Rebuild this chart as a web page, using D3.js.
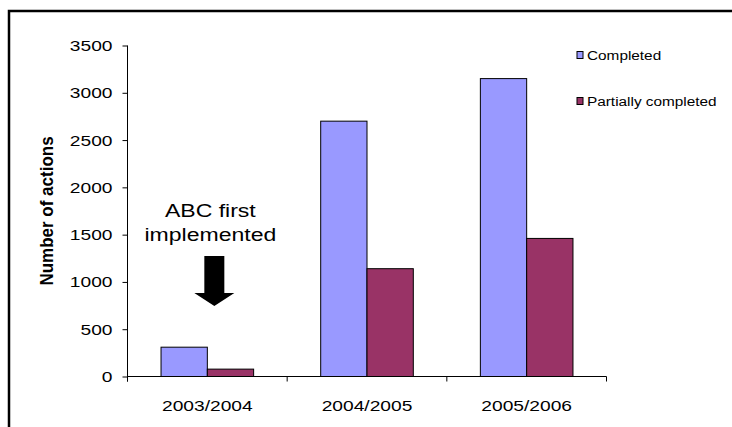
<!DOCTYPE html>
<html>
<head>
<meta charset="utf-8">
<script src="https://cdn.jsdelivr.net/npm/d3@7"></script>
<style>
  html, body { margin: 0; padding: 0; background: #fff; overflow: hidden; }
  svg { display: block; font-family: Arial, "Liberation Sans", sans-serif; }
</style>
</head>
<body>
<svg id="chart" width="732" height="427"></svg>
<script>
// Data
const categories = ["2003/2004", "2004/2005", "2005/2006"];
const seriesNames = ["Completed", "Partially completed"];
const completed = [310, 2700, 3150];
const partiallyCompleted = [78, 1140, 1460];
const yTicks = [0, 500, 1000, 1500, 2000, 2500, 3000, 3500];
const seriesColors = ["#9999FF", "#993366"];

const values = [completed, partiallyCompleted];
const wide = 1.28; // horizontal stretch of the typeface

const svg = d3.select("#chart");

// outer frame (only its top and left edges fall inside the view)
svg.append("rect")
  .attr("x", 9).attr("y", 11)
  .attr("width", 800).attr("height", 500)
  .attr("fill", "none").attr("stroke", "#000").attr("stroke-width", 2.5);

const plotLeft = 127.5, plotRight = 606.5, plotTop = 45.5, plotBottom = 376.5;

const y = d3.scaleLinear().domain([0, 3500]).range([plotBottom, plotTop]);
const x0 = d3.scaleBand().domain(categories).range([plotLeft, plotRight])
  .paddingInner(0.42).paddingOuter(0.21);
const x1 = d3.scaleBand().domain(seriesNames).range([0, x0.bandwidth()]);
const step = x0.step();

function stretchedText(g, x, yy, txt, size, anchor, weight) {
  return g.append("text")
    .attr("transform", `translate(${x},${yy}) scale(${wide},1)`)
    .attr("text-anchor", anchor || "middle")
    .attr("font-size", size)
    .attr("font-weight", weight || "normal")
    .attr("fill", "#000")
    .text(txt);
}

// bars
const groups = svg.append("g").selectAll("g")
  .data(categories).join("g")
  .attr("transform", d => `translate(${x0(d)},0)`);

groups.selectAll("rect")
  .data((d, i) => seriesNames.map((s, j) => ({ s, j, v: values[j][i] })))
  .join("rect")
  .attr("x", d => x1(d.s))
  .attr("y", d => y(d.v))
  .attr("width", x1.bandwidth())
  .attr("height", d => plotBottom - y(d.v))
  .attr("fill", d => seriesColors[d.j])
  .attr("stroke", "#000").attr("stroke-width", 1);

// y axis
const yAxis = d3.axisLeft(y).tickValues(yTicks).tickSize(5).tickFormat("");
const yg = svg.append("g").attr("transform", `translate(${plotLeft},0)`).call(yAxis);
yg.select(".domain").attr("d", `M0,${plotTop}V${plotBottom + 5}`);
yg.selectAll("line, path").attr("stroke", "#000");
yTicks.forEach(t => {
  stretchedText(svg, plotLeft - 15, y(t) + 5.5, String(t), 15, "end");
});

// x axis with ticks between categories
const boundaries = d3.range(categories.length + 1).map(i => plotLeft + i * step);
const xg = svg.append("g");
xg.append("line").attr("x1", plotLeft).attr("x2", plotRight)
  .attr("y1", plotBottom).attr("y2", plotBottom).attr("stroke", "#000");
xg.selectAll("line.tick").data(boundaries).join("line")
  .attr("class", "tick")
  .attr("x1", d => d).attr("x2", d => d)
  .attr("y1", plotBottom).attr("y2", plotBottom + 5).attr("stroke", "#000");
categories.forEach(c => {
  stretchedText(svg, x0(c) + x0.bandwidth() / 2, 411, c, 15, "middle");
});

// y axis title
svg.append("text")
  .attr("transform", `translate(53,${(plotTop + plotBottom) / 2}) rotate(-90) scale(1,1.08)`)
  .attr("text-anchor", "middle")
  .attr("font-size", 17).attr("font-weight", "bold")
  .text("Number of actions");

// legend
seriesNames.forEach((s, j) => {
  const ly = [55, 101][j];
  svg.append("rect")
    .attr("x", 577).attr("y", ly - 3.5)
    .attr("width", 6).attr("height", 7)
    .attr("fill", seriesColors[j]).attr("stroke", "#000").attr("stroke-width", 1);
  stretchedText(svg, 587, ly + 4.5, s, 12, "start");
});

// annotation
const ax = x0(categories[0]) + x0.bandwidth() / 2 + 7;
stretchedText(svg, ax - 4, 217, "ABC first", 18, "middle");
stretchedText(svg, ax - 4, 241, "implemented", 18, "middle");
svg.append("path")
  .attr("d", `M${ax - 10},256 H${ax + 10} V293 H${ax + 20} L${ax},306 L${ax - 20},293 H${ax - 10} Z`)
  .attr("fill", "#000");
</script>
</body>
</html>
